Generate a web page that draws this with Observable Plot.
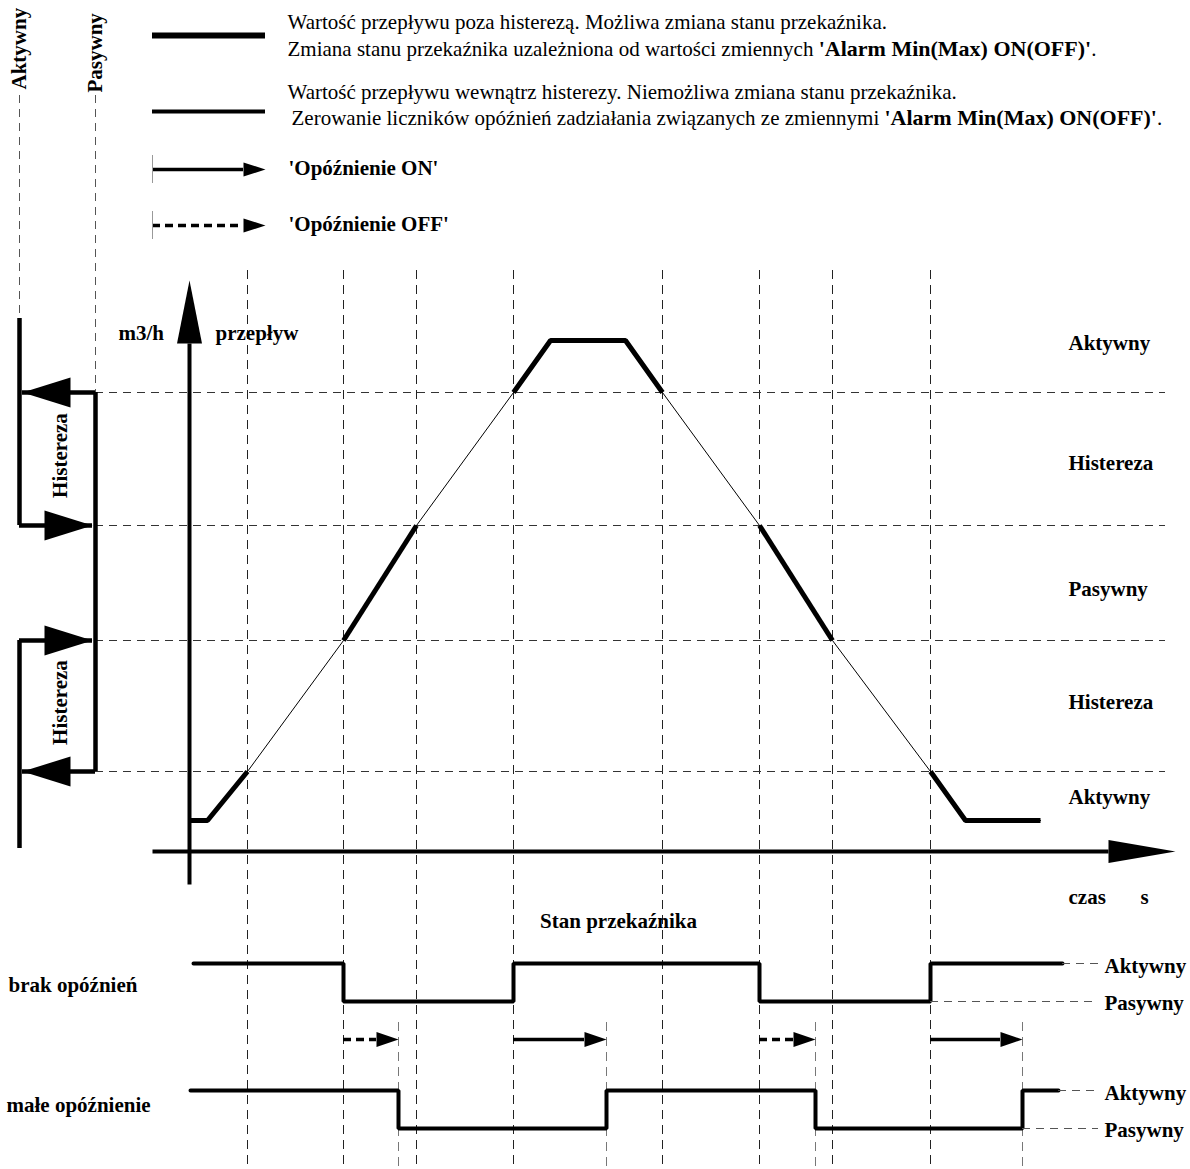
<!DOCTYPE html>
<html><head><meta charset="utf-8">
<script src="https://cdn.jsdelivr.net/npm/d3@7"></script>
<script src="https://cdn.jsdelivr.net/npm/@observablehq/plot@0.6"></script>
<style>body{margin:0;background:#fff}</style>
</head><body><div id="chart"></div>
<script>
// ---- schematic data (diagram units) ----
const eventTimes = [247, 343, 416, 513, 662, 759, 832, 930];      // flow crosses a threshold
const delayEndTimes = [398, 606, 815, 1022];                        // end of switching delay
const thresholdLevels = [392, 525, 640, 771];                       // flow thresholds
const flowT = [189, 207, 247, 343, 416, 513, 550, 625, 662, 759, 832, 930, 965, 1040];
const flowQ = [820, 820, 771, 640, 525, 392, 340, 340, 392, 525, 640, 771, 820, 820];
const flowSegmentOutside = [true, true, false, true, false, true, true, true, false, true, false, true, true];
const zoneNames = ["Aktywny", "Histereza", "Pasywny", "Histereza", "Aktywny"];
const zoneQ = [343, 463, 589, 702, 797];
const relayRowNames = ["brak opóźnień", "małe opóźnienie"];
const relayActiveLevel = [963, 1090];
const relayPassiveLevel = [1001, 1128];
const relayNoDelayT = [193, 343, 513, 759, 930, 1062];
const relayNoDelayS = ["A", "P", "A", "P", "A", "A"];
const relaySmallDelayT = [190, 398, 606, 815, 1022, 1058];
const relaySmallDelayS = ["A", "P", "A", "P", "A", "A"];
const delayFrom = [343, 513, 759, 930];
const delayTo = [398, 606, 815, 1022];
const delayKind = ["OFF", "ON", "OFF", "ON"];
const stateNames = ["Aktywny", "Pasywny"];
const stateColumnX = [19, 95];
const switchLevels = [392, 525, 640, 771];
const switchTo = ["Aktywny", "Pasywny", "Pasywny", "Aktywny"];
const legendLines = [
  "Wartość przepływu poza histerezą. Możliwa zmiana stanu przekaźnika.",
  "Zmiana stanu przekaźnika uzależniona od wartości zmiennych 'Alarm Min(Max) ON(OFF)'.",
  "Wartość przepływu wewnątrz histerezy. Niemożliwa zmiana stanu przekaźnika.",
  "Zerowanie liczników opóźnień zadziałania związanych ze zmiennymi 'Alarm Min(Max) ON(OFF)'."
];
const legendDelayLabels = ["'Opóźnienie ON'", "'Opóźnienie OFF'"];

// ---- derived geometry ----
const colX = s => stateColumnX[stateNames.indexOf(s)];
const tris = [];
function arrowHead(id, tx, ty, dx, dy, len, half) {
  const bx = tx - dx * len, by = ty - dy * len;
  const px = -dy * half, py = dx * half;
  tris.push({id, x: tx, y: ty}, {id, x: bx + px, y: by + py}, {id, x: bx - px, y: by - py}, {id, x: tx, y: ty});
  return {bx, by};
}

// flow curve: thin full line + thick runs
const flowPts = flowT.map((t, i) => ({t, q: flowQ[i]}));
const thickRuns = [];
let run = null;
flowSegmentOutside.forEach((o, i) => {
  if (o) {
    if (!run) { run = []; thickRuns.push(run); run.push({...flowPts[i], r: thickRuns.length}); }
    run.push({...flowPts[i + 1], r: thickRuns.length});
  } else run = null;
});
const thickPts = thickRuns.flat();

// axes
const yAxisTip = {x: 189, y: 280}, yAxisStart = {x: 189, y: 884};
const xAxisTip = {x: 1175, y: 851}, xAxisStart = {x: 152, y: 851};
const yb = arrowHead("ya", yAxisTip.x, yAxisTip.y, 0, -1, 63, 12.5);
const xb = arrowHead("xa", xAxisTip.x, xAxisTip.y, 1, 0, 67, 11.5);
const axisLines = [
  {x1: yAxisStart.x, y1: yAxisStart.y, x2: yb.bx, y2: yb.by},
  {x1: xAxisStart.x, y1: xAxisStart.y, x2: xb.bx, y2: xb.by}
];

// relay rows
const relayData = [];
[[relayNoDelayT, relayNoDelayS], [relaySmallDelayT, relaySmallDelayS]].forEach(([T, S], r) => {
  T.forEach((t, i) => relayData.push({row: r, t, y: S[i] === "A" ? relayActiveLevel[r] : relayPassiveLevel[r]}));
});
const relayConnectors = [0, 1].flatMap(r => {
  const T = r ? relaySmallDelayT : relayNoDelayT;
  return [
    {x1: T[T.length - 1], x2: 1098, y: relayActiveLevel[r]},
    {x1: T[T.length - 2], x2: 1098, y: relayPassiveLevel[r]}
  ];
});
const relayLabels = [0, 1].flatMap(r => [
  {x: 1104, y: relayActiveLevel[r] + 3, text: "Aktywny"},
  {x: 1104, y: relayPassiveLevel[r] + 2, text: "Pasywny"}
]);

// delay arrows
const delayArrowY = 1039;
const delayShafts = delayFrom.map((f, i) => {
  const b = arrowHead("d" + i, delayTo[i], delayArrowY, 1, 0, 22, 7.5);
  return {x1: f, x2: b.bx, y: delayArrowY, kind: delayKind[i]};
});

// hysteresis diagram on the left
const hystShafts = switchLevels.map((q, i) => {
  const to = switchTo[i];
  const from = to === "Aktywny" ? "Pasywny" : "Aktywny";
  const dir = to === "Aktywny" ? -1 : 1;
  const tip = colX(to) - dir * 3;
  arrowHead("h" + i, tip, q, dir, 0, 48, 15);
  return {x1: colX(from), x2: tip, y: q};
});
const stateLines = [
  {x: colX("Aktywny"), y1: 318, y2: 525}, {x: colX("Aktywny"), y1: 640, y2: 848},
  {x: colX("Pasywny"), y1: 392, y2: 771}
];
const stateDashes = [{x: colX("Aktywny"), y1: 95, y2: 318}, {x: colX("Pasywny"), y1: 95, y2: 392}];

// legend samples
const legendSampleX = [152, 265];
const legendLineSamples = [{y: 35, w: 6}, {y: 111, w: 4}];
const legendArrowY = [169, 225];
const legendArrows = legendArrowY.map((y, i) => {
  const b = arrowHead("l" + i, legendSampleX[1], y, 1, 0, 22, 7);
  return {x1: legendSampleX[0], x2: b.bx, y, kind: i ? "OFF" : "ON"};
});
const allShafts = delayShafts.concat(legendArrows);
const solidShafts = allShafts.filter(d => d.kind === "ON");
const dashedShafts = allShafts.filter(d => d.kind === "OFF");

const serif = "'Liberation Serif', 'Times New Roman', serif";
const chart = Plot.plot({
  width: 1190, height: 1169, margin: 0,
  x: {domain: [0, 1190], range: [0, 1190], axis: null},
  y: {domain: [0, 1169], range: [0, 1169], axis: null},
  style: {fontFamily: serif, fontSize: "21px", background: "#fff", color: "#000", overflow: "visible"},
  marks: [
    // grid
    Plot.ruleX(eventTimes, {x: d => d, y1: 270, y2: 1169, stroke: "#222", strokeWidth: 1, strokeDasharray: "9,6"}),
    Plot.ruleX(delayEndTimes, {x: d => d, y1: 1022, y2: 1169, stroke: "#777", strokeWidth: 1, strokeDasharray: "9,6"}),
    Plot.ruleY(thresholdLevels, {y: d => d, x1: 95, x2: 1165, stroke: "#333", strokeWidth: 1, strokeDasharray: "8,6"}),
    Plot.ruleX(stateDashes, {x: "x", y1: "y1", y2: "y2", stroke: "#555", strokeWidth: 1, strokeDasharray: "8,6"}),
    // flow curve
    Plot.line(flowPts, {x: "t", y: "q", stroke: "#000", strokeWidth: 1}),
    Plot.line(thickPts, {x: "t", y: "q", z: "r", stroke: "#000", strokeWidth: 5, strokeLinejoin: "miter", strokeLinecap: "butt"}),
    // axes
    Plot.link(axisLines, {x1: "x1", y1: "y1", x2: "x2", y2: "y2", stroke: "#000", strokeWidth: 4}),
    // relay states
    Plot.line(relayData, {x: "t", y: "y", z: "row", curve: "step-after", stroke: "#000", strokeWidth: 4, strokeLinejoin: "miter"}),
    Plot.ruleY(relayConnectors, {y: "y", x1: "x1", x2: "x2", stroke: "#555", strokeWidth: 1, strokeDasharray: "8,6"}),
    // delay arrows (ON solid, OFF dashed), legend arrows included
    Plot.ruleY(solidShafts, {y: "y", x1: "x1", x2: "x2", stroke: "#000", strokeWidth: 3.5}),
    Plot.ruleY(dashedShafts, {y: "y", x1: "x1", x2: "x2", stroke: "#000", strokeWidth: 3.5, strokeDasharray: "8,5"}),
    // hysteresis diagram
    Plot.ruleX(stateLines, {x: "x", y1: "y1", y2: "y2", stroke: "#000", strokeWidth: 4.5}),
    Plot.ruleY(hystShafts, {y: "y", x1: "x1", x2: "x2", stroke: "#000", strokeWidth: 4.5}),
    // legend
    Plot.ruleY(legendLineSamples, {y: "y", x1: legendSampleX[0], x2: legendSampleX[1], stroke: "#000", strokeWidth: d => d.w}),
    Plot.ruleX(legendArrowY, {x: legendSampleX[0], y1: d => d - 14, y2: d => d + 14, stroke: "#999", strokeWidth: 1}),
    // arrowheads
    Plot.line(tris, {x: "x", y: "y", z: "id", fill: "#000", stroke: "none", curve: "linear"}),
    // texts
    Plot.text(legendLines, {x: (d, i) => i === 3 ? 291 : 287, y: (d, i) => [22, 49, 92, 118][i], text: d => d,
      textAnchor: "start", fontSize: 21, fill: "#000"}),
    Plot.text(legendDelayLabels, {x: 288, y: (d, i) => legendArrowY[i] - 1, text: d => d, textAnchor: "start",
      fontSize: 21, fontWeight: "bold", fill: "#000"}),
    Plot.text(stateNames, {x: (d, i) => stateColumnX[i], y: (d, i) => i ? 92 : 89, text: d => d, rotate: -90,
      textAnchor: "start", fontSize: 21, fontWeight: "bold", fill: "#000"}),
    Plot.text(["Histereza", "Histereza"], {x: 60, y: (d, i) => i ? 702 : 455, text: d => d, rotate: -90,
      textAnchor: "middle", fontSize: 21, fontWeight: "bold", fill: "#000"}),
    Plot.text(zoneNames, {x: 1068, y: (d, i) => zoneQ[i], text: d => d, textAnchor: "start", fontSize: 21, fontWeight: "bold", fill: "#000"}),
    Plot.text(["m3/h", "przepływ"], {x: (d, i) => i ? 215 : 118, y: 333, text: d => d, textAnchor: "start",
      fontSize: 21, fontWeight: "bold", fill: "#000"}),
    Plot.text(["czas", "s"], {x: (d, i) => i ? 1140 : 1068, y: 897, text: d => d, textAnchor: "start",
      fontSize: 21, fontWeight: "bold", fill: "#000"}),
    Plot.text(["Stan przekaźnika"], {x: 618, y: 921, text: d => d, textAnchor: "middle", fontSize: 21, fontWeight: "bold", fill: "#000"}),
    Plot.text(relayRowNames, {x: (d, i) => i ? 6 : 8, y: (d, i) => i ? 1105 : 985, text: d => d, textAnchor: "start",
      fontSize: 21, fontWeight: "bold", fill: "#000"}),
    Plot.text(relayLabels, {x: "x", y: "y", text: "text", textAnchor: "start", fontSize: 21, fontWeight: "bold", fill: "#000"})
  ]
});
document.getElementById("chart").appendChild(chart);

// make the quoted variable names bold inside the legend sentences
const key = "'Alarm Min(Max) ON(OFF)'";
d3.select(chart).selectAll("text").each(function () {
  const s = this.textContent;
  const k = s.indexOf(key);
  if (k < 0 || this.querySelector("tspan")) return;
  const sel = d3.select(this);
  sel.text(null);
  sel.append("tspan").text(s.slice(0, k));
  sel.append("tspan").attr("font-weight", "bold").attr("font-size", 22).text(key);
  sel.append("tspan").text(s.slice(k + key.length));
});
</script>
</body></html>
